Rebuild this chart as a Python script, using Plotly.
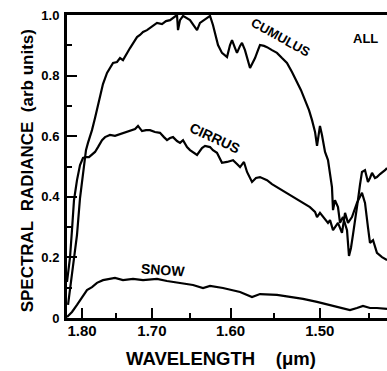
import plotly.graph_objects as go

# Normalized spectral radiance (arb units) against wavelength (um)
cumulus_wl = [1.8214, 1.8184, 1.8153, 1.8122, 1.8076, 1.8030, 1.7985, 1.7940, 1.7910, 1.7880,
              1.7850, 1.7805, 1.7776, 1.7731, 1.7688, 1.7629, 1.7586, 1.7542, 1.7485, 1.7442,
              1.7400, 1.7343, 1.7301, 1.7246, 1.7204, 1.7163, 1.7121, 1.7067, 1.7026, 1.6972,
              1.6932, 1.6865, 1.6812, 1.6759, 1.6707, 1.6668, 1.6655, 1.6629, 1.6590, 1.6539,
              1.6501, 1.6450, 1.6412, 1.6375, 1.6325, 1.6287, 1.6250, 1.6214, 1.6189, 1.6152,
              1.6104, 1.6067, 1.6043, 1.6007, 1.5983, 1.5947, 1.5924, 1.5888, 1.5865, 1.5830,
              1.5794, 1.5771, 1.5736, 1.5713, 1.5679, 1.5656, 1.5610, 1.5576, 1.5520, 1.5464,
              1.5408, 1.5353, 1.5298, 1.5243, 1.5200, 1.5157, 1.5114, 1.5082, 1.5050, 1.5029,
              1.5008, 1.4998, 1.4977, 1.4945, 1.4914, 1.4893, 1.4873, 1.4862, 1.4842, 1.4811,
              1.4790, 1.4760, 1.4719, 1.4699, 1.4679, 1.4658, 1.4628, 1.4609, 1.4589, 1.4569,
              1.4539, 1.4510, 1.4490, 1.4470, 1.4441, 1.4422, 1.4392, 1.4373, 1.4344, 1.4325]
cumulus_rad = [0.043, 0.092, 0.142, 0.198, 0.274, 0.396, 0.482, 0.554, 0.578, 0.597,
               0.620, 0.660, 0.686, 0.729, 0.772, 0.809, 0.825, 0.842, 0.845, 0.858,
               0.851, 0.875, 0.891, 0.911, 0.927, 0.934, 0.944, 0.950, 0.957, 0.967,
               0.974, 0.970, 0.980, 0.983, 0.993, 1.000, 0.950, 0.983, 0.997, 0.990,
               0.983, 0.964, 0.950, 0.974, 0.983, 0.990, 0.997, 0.967, 0.941, 0.901,
               0.875, 0.865, 0.861, 0.901, 0.917, 0.891, 0.875, 0.898, 0.908, 0.884,
               0.851, 0.825, 0.845, 0.858, 0.884, 0.901, 0.898, 0.894, 0.884, 0.875,
               0.858, 0.842, 0.812, 0.779, 0.752, 0.719, 0.686, 0.653, 0.614, 0.568,
               0.614, 0.634, 0.604, 0.548, 0.521, 0.472, 0.432, 0.356, 0.389, 0.366,
               0.314, 0.333, 0.290, 0.205, 0.231, 0.277, 0.340, 0.389, 0.439, 0.482,
               0.488, 0.449, 0.462, 0.479, 0.462, 0.465, 0.475, 0.479, 0.488, 0.495]

cirrus_wl = [1.8230, 1.8184, 1.8153, 1.8122, 1.8076, 1.8030, 1.7985, 1.7940, 1.7895, 1.7850,
             1.7805, 1.7761, 1.7702, 1.7658, 1.7586, 1.7514, 1.7442, 1.7372, 1.7301, 1.7231,
             1.7190, 1.7135, 1.7080, 1.7026, 1.6959, 1.6892, 1.6839, 1.6799, 1.6759, 1.6720,
             1.6668, 1.6629, 1.6590, 1.6539, 1.6501, 1.6450, 1.6412, 1.6350, 1.6312, 1.6250,
             1.6214, 1.6165, 1.6104, 1.6043, 1.5971, 1.5924, 1.5888, 1.5842, 1.5806, 1.5748,
             1.5702, 1.5656, 1.5576, 1.5520, 1.5464, 1.5408, 1.5353, 1.5298, 1.5265, 1.5178,
             1.5104, 1.5050, 1.5029, 1.4998, 1.4966, 1.4914, 1.4893, 1.4862, 1.4811, 1.4770,
             1.4739, 1.4709, 1.4669, 1.4619, 1.4569, 1.4539, 1.4510, 1.4490, 1.4460, 1.4422,
             1.4373, 1.4325]
cirrus_rad = [0.119, 0.198, 0.290, 0.389, 0.455, 0.505, 0.528, 0.531, 0.531, 0.538,
              0.548, 0.564, 0.587, 0.597, 0.604, 0.601, 0.607, 0.611, 0.617, 0.624,
              0.634, 0.617, 0.620, 0.620, 0.614, 0.611, 0.597, 0.587, 0.594, 0.597,
              0.584, 0.578, 0.587, 0.564, 0.554, 0.545, 0.538, 0.561, 0.568, 0.564,
              0.554, 0.545, 0.512, 0.515, 0.521, 0.508, 0.498, 0.515, 0.482, 0.449,
              0.462, 0.465, 0.455, 0.442, 0.432, 0.422, 0.413, 0.403, 0.396, 0.380,
              0.366, 0.350, 0.333, 0.347, 0.333, 0.314, 0.323, 0.290, 0.314, 0.281,
              0.347, 0.314, 0.333, 0.380, 0.413, 0.380, 0.300, 0.248, 0.257, 0.215,
              0.201, 0.191]

snow_wl = [1.8230, 1.8153, 1.8076, 1.8000, 1.7925, 1.7850, 1.7776, 1.7688, 1.7586, 1.7514,
           1.7400, 1.7259, 1.7121, 1.6932, 1.6799, 1.6629, 1.6463, 1.6337, 1.6250, 1.6092,
           1.5888, 1.5748, 1.5656, 1.5464, 1.5319, 1.5178, 1.5029, 1.4893, 1.4790, 1.4689,
           1.4619, 1.4559, 1.4490, 1.4422, 1.4325]
snow_rad = [0.003, 0.020, 0.043, 0.066, 0.092, 0.102, 0.116, 0.125, 0.129, 0.132,
            0.125, 0.129, 0.125, 0.129, 0.122, 0.116, 0.109, 0.099, 0.106, 0.099,
            0.086, 0.069, 0.079, 0.076, 0.069, 0.063, 0.053, 0.043, 0.036, 0.026,
            0.033, 0.040, 0.033, 0.033, 0.030]

major_wl = [1.80, 1.70, 1.60, 1.50]
major_wl_text = ["1.80", "1.70", "1.60", "1.50"]
minor_wl = [1.75, 1.65, 1.55, 1.45]
rad_ticks = [0, 0.2, 0.4, 0.6, 0.8, 1.0]
rad_tick_text = ["0", "0.2", "0.4", "0.6", "0.8", "1.0"]
rad_minor = [0.1, 0.3, 0.5, 0.7, 0.9]
wl_range = [1.823, 1.4325]


def wavenumber(values):
    # the horizontal scale is linear in 1/wavelength
    return [1.0 / v for v in values]


FONT = "Liberation Sans, Arial, sans-serif"
NARROW = "Liberation Sans Narrow, Arial Narrow, Liberation Sans, sans-serif"
line_style = dict(color="black", width=2.2)

fig = go.Figure()
for wl, rad in [(cumulus_wl, cumulus_rad), (cirrus_wl, cirrus_rad), (snow_wl, snow_rad)]:
    fig.add_trace(go.Scatter(x=wavenumber(wl), y=rad, mode="lines", line=line_style,
                             showlegend=False, hoverinfo="skip"))

labels = [
    ("CUMULUS", 1.542, 0.925, 29, 13),
    ("CIRRUS", 1.619, 0.594, 25, 14),
    ("SNOW", 1.685, 0.158, 4, 14),
    ("ALL", 1.453, 0.924, 0, 13),
]
for text, wl, rad, angle, size in labels:
    fig.add_annotation(x=1.0 / wl, y=rad, text=text, showarrow=False, textangle=angle,
                       xanchor="center", yanchor="middle",
                       font=dict(family=FONT, size=size, color="black", weight="bold"))

fig.add_annotation(xref="paper", yref="paper", x=-0.124, y=0.485,
                   xanchor="center", yanchor="middle",
                   text="SPECTRAL\u00a0\u00a0RADIANCE\u00a0\u00a0(arb units)", textangle=-90,
                   showarrow=False, font=dict(family=FONT, size=17, color="black", weight="bold"))
fig.add_annotation(xref="paper", yref="paper", x=0.481, y=-0.135,
                   xanchor="center", yanchor="middle",
                   text="WAVELENGTH\u00a0\u00a0\u00a0\u00a0(\u03bcm)", showarrow=False,
                   font=dict(family=FONT, size=18.5, color="black", weight="bold"))

fig.update_xaxes(range=wavenumber(wl_range), tickmode="array", tickvals=wavenumber(major_wl),
                 ticktext=major_wl_text, ticks="inside", ticklen=10, tickwidth=2,
                 tickcolor="black", showline=True, linewidth=3, linecolor="black",
                 mirror=True, showgrid=False, zeroline=False,
                 tickfont=dict(family=NARROW, size=15, color="black", weight="bold"),
                 ticklabelstandoff=-3,
                 minor=dict(tickmode="array", tickvals=wavenumber(minor_wl), ticks="inside",
                            ticklen=5, tickwidth=2, tickcolor="black", showgrid=False))
fig.update_yaxes(range=[0, 1.0], tickmode="array", tickvals=rad_ticks, ticktext=rad_tick_text,
                 ticks="inside", ticklen=10, tickwidth=2, tickcolor="black",
                 showline=True, linewidth=3, linecolor="black", showgrid=False,
                 zeroline=False,
                 tickfont=dict(family=FONT, size=13, color="black", weight="bold"),
                 ticklabelstandoff=2,
                 minor=dict(tickmode="array", tickvals=rad_minor, ticks="inside",
                            ticklen=5, tickwidth=2, tickcolor="black", showgrid=False))

fig.update_layout(width=387, height=371, margin=dict(l=67, r=0, t=15, b=53),
                  paper_bgcolor="white", plot_bgcolor="white")

fig.write_html("out.html")
